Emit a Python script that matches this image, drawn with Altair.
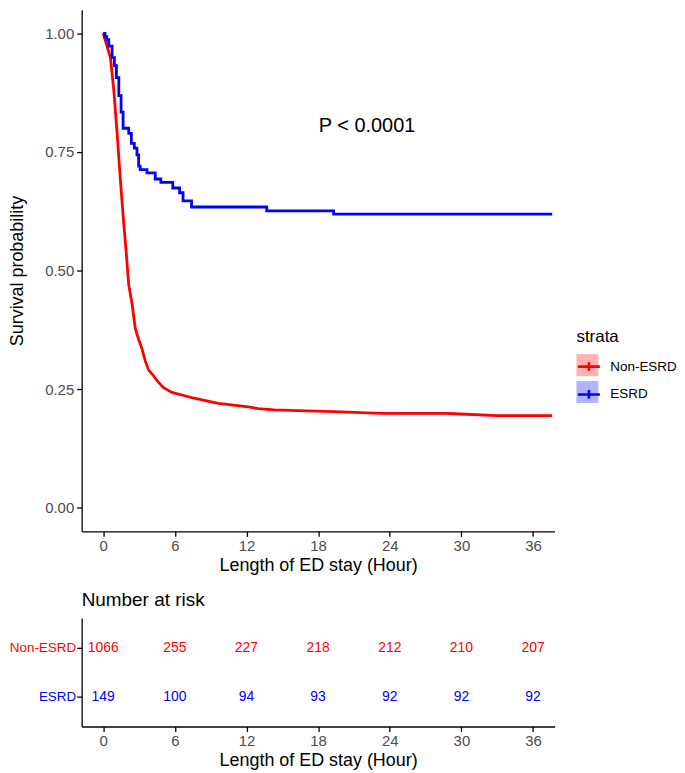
import altair as alt
import pandas as pd

FONT = "Liberation Sans"

# ---- Kaplan-Meier curves ----
non_esrd_time = [0, 0.61, 0.89, 1.17, 1.44, 1.71, 1.94, 2.14, 2.42, 2.69, 2.98, 3.25,
                 3.53, 3.81, 4.23, 4.64, 5.06, 5.75, 6.67, 7.42, 8.0, 9.64, 12.0, 13.0,
                 14.33, 16.33, 19.33, 23.25, 28.75, 29.9, 33.0, 37.58]
non_esrd_surv = [1.0, 0.949, 0.880, 0.789, 0.692, 0.603, 0.535, 0.470, 0.430, 0.378, 0.354, 0.335,
                 0.309, 0.290, 0.278, 0.264, 0.253, 0.243, 0.237, 0.232, 0.229, 0.220, 0.213, 0.209,
                 0.206, 0.2046, 0.2025, 0.199, 0.199, 0.1975, 0.194, 0.194]

esrd_time = [0, 0.15, 0.3, 0.47, 0.75, 0.94, 1.11, 1.31, 1.5, 1.67, 2.14, 2.36, 2.61, 2.83,
             2.97, 3.1, 3.67, 4.36, 4.83, 5.83, 6.4, 6.69, 7.4, 13.7, 19.3, 37.6]
esrd_surv = [1.0, 0.993, 0.987, 0.973, 0.949, 0.932, 0.907, 0.869, 0.834, 0.800, 0.789, 0.768,
             0.758, 0.744, 0.720, 0.713, 0.706, 0.693, 0.686, 0.674, 0.664, 0.647, 0.634, 0.626,
             0.619, 0.619]

# ---- Number at risk ----
risk_times = [0, 6, 12, 18, 24, 30, 36]
risk_non_esrd = [1066, 255, 227, 218, 212, 210, 207]
risk_esrd = [149, 100, 94, 93, 92, 92, 92]

groups = ["Non-ESRD", "ESRD"]
key_ids = ["Non-ESRD key", "ESRD key"]
colors = ["#FF0000", "#0000FF"]
x_ticks = [0, 6, 12, 18, 24, 30, 36]
y_ticks = [0, 0.25, 0.5, 0.75, 1.0]
pval_text = "P < 0.0001"
pval_pos = [22.1, 0.805]

non_df = pd.DataFrame({"time": non_esrd_time, "surv": non_esrd_surv, "strata": "Non-ESRD"})
esrd_df = pd.DataFrame({"time": esrd_time, "surv": esrd_surv, "strata": "ESRD"})
key_df = pd.DataFrame({"key": key_ids, "time": [0, 0], "surv": [1.0, 1.0]})
pval_df = pd.DataFrame({"time": [pval_pos[0]], "surv": [pval_pos[1]], "label": [pval_text]})
risk_df = pd.DataFrame({
    "time": risk_times + risk_times,
    "strata": ["Non-ESRD"] * len(risk_times) + ["ESRD"] * len(risk_times),
    "label": [str(v) for v in risk_non_esrd + risk_esrd],
    "col": [colors[0]] * len(risk_times) + [colors[1]] * len(risk_times),
})

x_scale = alt.Scale(domain=[-1.8, 37.8], nice=False, zero=False)
y_scale = alt.Scale(domain=[-0.05, 1.05], nice=False, zero=False)

def x_axis():
    return alt.Axis(values=x_ticks, title="Length of ED stay (Hour)", grid=False,
                    domainColor="black", domainWidth=1.3, tickColor="black", tickWidth=1.3,
                    tickSize=5, labelFont=FONT, labelFontSize=15, labelColor="#4D4D4D",
                    labelPadding=2, labelFlush=False, labelOverlap=False,
                    titleFont=FONT, titleFontSize=18, titleFontWeight="normal",
                    titleColor="black", titlePadding=3)

y_axis = alt.Axis(values=y_ticks, format=".2f", title="Survival probability", grid=False,
                  domainColor="black", domainWidth=1.3, tickColor="black", tickWidth=1.3,
                  tickSize=5, labelFont=FONT, labelFontSize=15, labelColor="#4D4D4D",
                  labelPadding=3, labelFlush=False, labelOverlap=False,
                  titleFont=FONT, titleFontSize=18, titleFontWeight="normal",
                  titleColor="black", titlePadding=18)

LEG_X, LEG_Y = 497, 321

line_color = alt.Color(
    "strata:N",
    scale=alt.Scale(domain=groups, range=colors),
    legend=alt.Legend(orient="none", legendX=LEG_X, legendY=LEG_Y, title="strata",
                      titleFont=FONT, titleFontSize=17, titleFontWeight="normal",
                      titleColor="black", titlePadding=8, labelFont=FONT, labelFontSize=13.5,
                      labelColor="black", labelOffset=9, symbolType="M-1,0H1M0,-0.4V0.4",
                      symbolSize=484, symbolStrokeWidth=2.6, symbolOpacity=1, rowPadding=5,
                      padding=0),
)

key_fill = alt.Fill(
    "key:N",
    scale=alt.Scale(domain=key_ids, range=colors),
    legend=alt.Legend(orient="none", legendX=LEG_X, legendY=LEG_Y, title="strata",
                      titleFont=FONT, titleFontSize=17, titleFontWeight="normal",
                      titleColor="black", titleOpacity=0, titlePadding=8, labelFont=FONT,
                      labelFontSize=1, labelExpr="''", labelOffset=0,
                      symbolType="square", symbolSize=484, symbolStrokeWidth=0,
                      symbolOpacity=0.3, rowPadding=5, padding=0),
)

X = alt.X("time:Q", scale=x_scale, axis=x_axis())
Y = alt.Y("surv:Q", scale=y_scale, axis=y_axis)

red = alt.Chart(non_df).mark_line(strokeWidth=2.8, interpolate="linear").encode(
    x=X, y=Y, color=line_color)
blue = alt.Chart(esrd_df).mark_line(strokeWidth=2.8, interpolate="step-after").encode(
    x=X, y=Y, color=line_color)
keys = alt.Chart(key_df).mark_square(size=0, opacity=0).encode(x=X, y=Y, fill=key_fill)
pval = alt.Chart(pval_df).mark_text(font=FONT, fontSize=20, color="black").encode(
    x=X, y=Y, text="label:N")

main = alt.layer(red, blue, keys, pval).properties(width=475, height=524)

table = alt.Chart(risk_df).mark_text(font=FONT, fontSize=14).encode(
    x=alt.X("time:Q", scale=x_scale, axis=x_axis()),
    y=alt.Y("strata:N", scale=alt.Scale(type="point", domain=groups, padding=0.6),
            axis=alt.Axis(title=None, grid=False, domainColor="black", domainWidth=1.3,
                          tickColor="black", tickWidth=1.3, tickSize=5, labelFont=FONT,
                          labelFontSize=13.5, labelPadding=1,
                          labelColor={"condition": {"test": "datum.value === 'ESRD'",
                                                    "value": colors[1]},
                                      "value": colors[0]})),
    text="label:N",
    color=alt.Color("col:N", scale=None),
).properties(
    width=475, height=109,
    title=alt.TitleParams("Number at risk", anchor="start", frame="group", font=FONT,
                          fontSize=19, fontWeight="normal", color="black", offset=8),
)

chart = (
    alt.vconcat(main, table, spacing=17)
    .resolve_scale(color="independent", fill="independent", x="independent", y="independent")
    .properties(padding={"left": 0, "top": 0, "right": 0, "bottom": 0}, background="white")
    .configure_view(stroke=None)
)

chart.save("out.html", embed_options={"renderer": "svg", "actions": False})
